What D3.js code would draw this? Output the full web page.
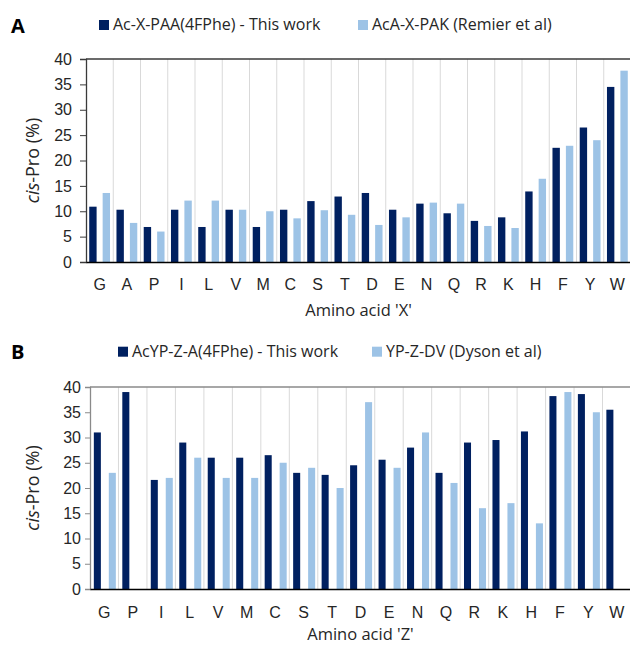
<!DOCTYPE html>
<html lang="en">
<head>
  <meta charset="UTF-8" />
  <title>cis-Pro</title>
  <script src="https://d3js.org/d3.v7.min.js"></script>
  <style>
    body { margin: 0; background: #fff; }
    svg { display: block; font-family: "Open Sans", sans-serif; }
  </style>
</head>
<body>
  <svg id="chart" width="630" height="646"></svg>

  <script>
    // Panel A
    const aminoX = ["G","A","P","I","L","V","M","C","S","T","D","E","N","Q","R","K","H","F","Y","W"];
    const thisWorkX = [10.9,10.3,6.9,10.3,6.9,10.3,6.9,10.3,12.0,12.9,13.6,10.3,11.5,9.6,8.1,8.8,13.9,22.5,26.5,34.5];
    const remierX   = [13.6,7.7,6.0,12.1,12.1,10.3,10.0,8.6,10.2,9.3,7.3,8.8,11.7,11.5,7.1,6.7,16.4,22.9,24.0,37.7];

    // Panel B (null = no value)
    const aminoZ = ["G","P","I","L","V","M","C","S","T","D","E","N","Q","R","K","H","F","Y","W"];
    const thisWorkZ = [31.0,39.0,21.6,29.0,26.0,26.0,26.5,23.0,22.6,24.5,25.6,28.0,23.0,29.0,29.5,31.2,38.2,38.6,35.5];
    const dysonZ    = [23.0,null,22.0,26.0,22.0,22.0,25.0,24.0,20.0,37.0,24.0,31.0,21.0,16.0,17.0,13.0,39.0,35.0,null];

    const yTicks = [0,5,10,15,20,25,30,35,40];
    const dark = "#002060", light = "#9dc3e6", textCol = "#262626";

    const svg = d3.select("#chart");

    function panel(o) {
      const g = svg.append("g");
      const x = d3.scaleBand().domain(o.cats).range([o.left, o.right]);
      const inner = d3.scaleBand().domain([0, 1]).range([0, x.bandwidth()])
        .paddingInner(o.pin).paddingOuter(o.pout);
      const y = d3.scaleLinear().domain([0, 40]).range([o.bottom, o.top]);

      // vertical gridlines at category boundaries
      g.selectAll("line.grid").data(o.cats.slice(1)).join("line")
        .attr("x1", d => x(d)).attr("x2", d => x(d))
        .attr("y1", o.top).attr("y2", o.bottom)
        .attr("stroke", "#d9d9d9").attr("stroke-width", 1);

      // top border
      g.append("line").attr("x1", o.left).attr("x2", o.right)
        .attr("y1", o.top).attr("y2", o.top)
        .attr("stroke", o.topColor).attr("stroke-width", 1.3);

      [o.s1, o.s2].forEach((vals, si) => {
        g.selectAll("rect.s" + si).data(o.cats.map((c, i) => ({c, v: vals[i]})).filter(d => d.v != null))
          .join("rect")
          .attr("x", d => x(d.c) + inner(si) + o.shift)
          .attr("width", inner.bandwidth())
          .attr("y", d => y(d.v))
          .attr("height", d => y(0) - y(d.v))
          .attr("fill", si === 0 ? dark : light);
      });

      // y axis
      const ya = g.append("g").attr("transform", `translate(${o.left},0)`)
        .call(d3.axisLeft(y).tickValues(yTicks).tickSize(o.tickSize).tickPadding(o.tickPad));
      ya.select(".domain").attr("stroke", o.axisColor).attr("stroke-width", 1.3);
      ya.selectAll(".tick line").attr("stroke", o.axisColor);
      ya.selectAll(".tick text").attr("font-size", 16).attr("fill", textCol);

      // x axis
      const xa = g.append("g").attr("transform", `translate(0,${o.bottom})`)
        .call(d3.axisBottom(x).tickSize(0).tickPadding(o.xPad));
      xa.select(".domain").attr("stroke", "#000").attr("stroke-width", 1.3);
      xa.selectAll(".tick text").attr("font-size", 16).attr("fill", textCol);

      // axis titles
      const cy = (o.top + o.bottom) / 2;
      const yt = g.append("text")
        .attr("transform", `translate(39,${cy}) rotate(-90)`)
        .attr("text-anchor", "middle").attr("font-size", 18).attr("fill", textCol);
      yt.append("tspan").attr("font-style", "italic").text("cis");
      yt.append("tspan").text("-Pro (%)");

      g.append("text").attr("x", (o.left + o.right) / 2).attr("y", o.xTitleY)
        .attr("text-anchor", "middle").attr("font-size", 16.5).attr("fill", textCol)
        .text(o.xTitle);

      // panel letter
      g.append("text").attr("x", 11).attr("y", o.letterY)
        .attr("font-size", 20).attr("font-weight", "bold").attr("fill", "#000").text(o.letter);

      // legend
      o.legend.forEach((l, i) => {
        g.append("rect").attr("x", l.x).attr("y", o.legendY - 5)
          .attr("width", 10).attr("height", 10).attr("fill", i === 0 ? dark : light);
        g.append("text").attr("x", l.x + 14).attr("y", o.legendY + 5)
          .attr("font-size", 16).attr("fill", textCol).text(l.label);
      });
    }

    panel({
      cats: aminoX, s1: thisWorkX, s2: remierX,
      left: 86, right: 631, top: 59, bottom: 262,
      pin: 0.45, pout: 0.24, shift: 0,
      topColor: "#3a3a3a", axisColor: "#3a3a3a", tickSize: 6, tickPad: 8, xPad: 16.6,
      xTitle: "Amino acid 'X'", xTitleY: 316,
      letter: "A", letterY: 33,
      legendY: 25,
      legend: [{x: 99, label: "Ac-X-PAA(4FPhe) - This work"}, {x: 358, label: "AcA-X-PAK (Remier et al)"}]
    });

    panel({
      cats: aminoZ, s1: thisWorkZ, s2: dysonZ,
      left: 90, right: 631, top: 387, bottom: 589,
      pin: 0.53, pout: 0.216, shift: 0.6,
      topColor: "#8a8a8a", axisColor: "#8a8a8a", tickSize: 5, tickPad: 4, xPad: 17.6,
      xTitle: "Amino acid 'Z'", xTitleY: 640,
      letter: "B", letterY: 359,
      legendY: 351.7,
      legend: [{x: 118, label: "AcYP-Z-A(4FPhe) - This work"}, {x: 372, label: "YP-Z-DV (Dyson et al)"}]
    });
  </script>
</body>
</html>
